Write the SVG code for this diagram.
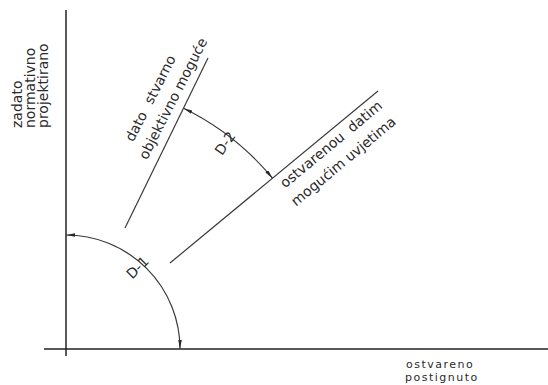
<svg xmlns="http://www.w3.org/2000/svg" width="548" height="385" viewBox="0 0 548 385">
<style>
.ax{stroke:#222;stroke-width:1.5;fill:none}
.ln{stroke:#3a3a3a;stroke-width:1.2;fill:none}
.arc{stroke:#3a3a3a;stroke-width:1.2;fill:none;marker-start:url(#ah);marker-end:url(#ah)}
.t{font-family:"DejaVu Sans","Liberation Sans",sans-serif;font-size:14px;fill:#2a2a2a}
.s{font-size:11px;letter-spacing:1.5px}
</style>
<defs>
<marker id="ah" viewBox="0 0 10 4" refX="10" refY="2" markerWidth="9" markerHeight="3.6" markerUnits="userSpaceOnUse" orient="auto-start-reverse">
<path d="M0,0 L10,2 L0,4 Z" fill="#2a2a2a"/>
</marker>
</defs>
<rect width="548" height="385" fill="#fff"/>
<g id="axes">
<line class="ax" x1="66" y1="10" x2="66" y2="356"/>
<line class="ax" x1="44" y1="349" x2="548" y2="349"/>
</g>
<g id="line-possible">
<line class="ln" x1="125" y1="228" x2="208" y2="58"/>
<text class="t" word-spacing="6" transform="translate(133.3,142.6) rotate(-63)">dato stvarno</text>
<text class="t" transform="translate(146.9,160.4) rotate(-63)">objektivno moguće</text>
</g>
<g id="line-achieved">
<line class="ln" x1="170" y1="263" x2="378" y2="91"/>
<text class="t" word-spacing="4" transform="translate(285.1,188.6) rotate(-39.6)">ostvarenou datim</text>
<text class="t" transform="translate(296.1,206.7) rotate(-39.6)">mogućim uvjetima</text>
</g>
<g id="connectors">
<path id="arc-d1" class="arc" d="M66,235 A114,114 0 0 1 180,349"/>
<path id="arc-d2" class="arc" d="M183.6,108.2 A268,268 0 0 1 272.5,178.2"/>
</g>
<g id="label-d1"><text class="t" text-anchor="middle" transform="translate(141,271) rotate(-45)">D-1</text></g>
<g id="label-d2"><text class="t" text-anchor="middle" transform="translate(229,146) rotate(-55)">D-2</text></g>
<g id="y-label">
<text class="t" transform="translate(22,128) rotate(-90)"><tspan x="0" y="0">zadato</tspan><tspan x="0" dy="13">normativno</tspan><tspan x="0" dy="13">projektirano</tspan></text>
</g>
<g id="x-label">
<text class="t s" x="406" y="368">ostvareno</text>
<text class="t s" x="405" y="381">postignuto</text>
</g>
</svg>
